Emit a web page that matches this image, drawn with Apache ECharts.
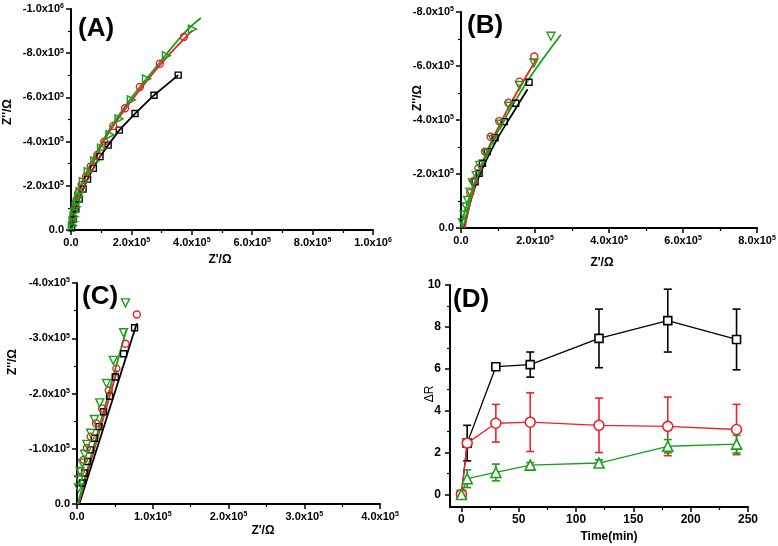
<!DOCTYPE html>
<html><head><meta charset="utf-8">
<script src="https://cdn.jsdelivr.net/npm/echarts@6/dist/echarts.min.js"></script>
<style>html,body{margin:0;padding:0;background:#fff}#c{width:778px;height:546px}</style>
</head><body><div id="c"></div>
<script>
// ---------- Panel A (Z' , -Z'') ----------
var aSquare = [[3.55e5,-7.01e5],[2.75e5,-6.10e5],[2.12e5,-5.27e5],[1.60e5,-4.52e5],[1.23e5,-3.84e5],[0.96e5,-3.32e5],[0.74e5,-2.79e5],[0.55e5,-2.30e5],[0.40e5,-1.85e5],[0.27e5,-1.40e5],[0.16e5,-0.95e5],[0.07e5,-0.50e5],[0.02e5,-0.10e5]];
var aCircle = [[3.74e5,-8.73e5],[2.94e5,-7.52e5],[2.28e5,-6.47e5],[1.79e5,-5.51e5],[1.40e5,-4.71e5],[1.10e5,-4.00e5],[0.87e5,-3.40e5],[0.65e5,-2.87e5],[0.50e5,-2.42e5],[0.35e5,-2.04e5],[0.24e5,-1.66e5],[0.17e5,-1.28e5],[0.10e5,-0.90e5],[0.05e5,-0.55e5]];
var aTriangle = [[4.02e5,-9.09e5],[3.16e5,-7.89e5],[2.50e5,-6.84e5],[2.00e5,-5.89e5],[1.59e5,-5.03e5],[1.29e5,-4.31e5],[1.01e5,-3.70e5],[0.79e5,-3.13e5],[0.57e5,-2.64e5],[0.41e5,-2.19e5],[0.30e5,-1.74e5],[0.25e5,-1.50e5],[0.21e5,-1.28e5],[0.17e5,-1.05e5],[0.13e5,-0.83e5],[0.10e5,-0.60e5],[0.08e5,-0.38e5],[0.05e5,-0.20e5]];
var aRedFit = [[0.02e5,0],[0.08e5,-0.80e5],[0.20e5,-1.50e5],[0.40e5,-2.20e5],[0.70e5,-2.95e5],[1.20e5,-4.30e5],[2.00e5,-5.85e5],[3.00e5,-7.55e5],[4.02e5,-9.03e5]];
var aGreenFit = [[0.03e5,0],[0.10e5,-0.76e5],[0.165e5,-1.36e5],[0.35e5,-2.11e5],[0.61e5,-2.87e5],[1.20e5,-4.38e5],[1.95e5,-5.89e5],[2.83e5,-7.40e5],[3.75e5,-8.91e5],[4.30e5,-9.59e5]];
// ---------- Panel B ----------
var bSquare = [[1.84e5,-5.40e5],[1.48e5,-4.62e5],[1.17e5,-3.94e5],[0.92e5,-3.34e5],[0.71e5,-2.83e5],[0.58e5,-2.40e5],[0.49e5,-2.03e5],[0.38e5,-1.71e5]];
var bCircle = [[1.98e5,-6.35e5],[1.58e5,-5.42e5],[1.28e5,-4.64e5],[1.03e5,-3.96e5],[0.80e5,-3.38e5],[0.65e5,-2.83e5],[0.47e5,-2.21e5],[0.35e5,-1.75e5],[0.25e5,-1.30e5]];
var bTriangle = [[2.43e5,-7.10e5],[1.97e5,-6.11e5],[1.58e5,-5.28e5],[1.30e5,-4.51e5],[1.07e5,-3.84e5],[0.86e5,-3.27e5],[0.68e5,-2.75e5],[0.51e5,-2.32e5],[0.41e5,-1.95e5],[0.31e5,-1.67e5],[0.24e5,-1.33e5],[0.18e5,-1.02e5],[0.14e5,-0.78e5],[0.08e5,-0.47e5],[0.04e5,-0.20e5]];
var bBlackFit = [[0.08e5,0],[0.40e5,-1.60e5],[0.90e5,-3.10e5],[1.40e5,-4.25e5],[1.80e5,-5.14e5]];
var bRedFit = [[0.10e5,0],[0.30e5,-1.20e5],[0.60e5,-2.50e5],[1.00e5,-3.70e5],[1.50e5,-5.00e5],[2.05e5,-6.27e5]];
var bGreenFit = [[0,0],[0.10e5,-0.60e5],[0.33e5,-1.52e5],[0.78e5,-3.00e5],[1.24e5,-4.17e5],[1.87e5,-5.59e5],[2.70e5,-7.16e5]];
// ---------- Panel C ----------
var cSquare = [[0.76e5,-3.19e5],[0.615e5,-2.72e5],[0.505e5,-2.30e5],[0.43e5,-1.95e5],[0.35e5,-1.67e5],[0.29e5,-1.40e5],[0.23e5,-1.19e5],[0.18e5,-0.98e5],[0.14e5,-0.77e5],[0.10e5,-0.56e5],[0.07e5,-0.38e5]];
var cCircle = [[0.79e5,-3.43e5],[0.64e5,-2.90e5],[0.52e5,-2.45e5],[0.42e5,-2.06e5],[0.33e5,-1.73e5],[0.25e5,-1.46e5],[0.18e5,-1.22e5],[0.13e5,-1.01e5],[0.09e5,-0.80e5],[0.05e5,-0.59e5]];
var cTriangle = [[0.64e5,-3.64e5],[0.615e5,-3.10e5],[0.48e5,-2.60e5],[0.39e5,-2.18e5],[0.30e5,-1.83e5],[0.23e5,-1.53e5],[0.18e5,-1.28e5],[0.13e5,-1.08e5],[0.10e5,-0.90e5],[0.07e5,-0.74e5],[0.04e5,-0.59e5],[0.03e5,-0.44e5],[0.02e5,-0.29e5]];
var cBlackFit = [[0.03e5,0],[0.79e5,-3.27e5]];
var cRedFit = [[0.02e5,0],[0.53e5,-2.42e5]];
var cGreenFit = [[0.01e5,0],[0.65e5,-3.15e5]];
// ---------- Panel D (ΔR vs time) ----------
var dTime = [0,5,30,60,120,180,240];
var dBlack = [0,2.45,6.1,6.2,7.45,8.3,7.4];
var dBlackErr = [0,0.85,0,0.6,1.4,1.5,1.45];
var dRed = [0,2.45,3.4,3.45,3.3,3.25,3.1];
var dRedErr = [0,0.1,0.9,1.4,1.3,1.4,1.2];
var dGreen = [0,0.75,1.05,1.4,1.5,2.3,2.4];
var dGreenErr = [0,0.42,0.4,0.12,0.15,0.32,0.42];
var dXTicks = [0,50,100,150,200,250];
var dXMinor = [25,75,125,175,225];
var dYTicks = [0,2,4,6,8,10];
var dYMinor = [1,3,5,7,9];

var FONT = '"Liberation Sans", Arial, sans-serif';
var BLACK = '#000000', RED = '#f0202a', GREEN = '#1c9e1c';

function sci(v){
  if (v === 0) return '{m|0.0}';
  var e = Math.floor(Math.log10(Math.abs(v)) + 1e-9);
  var m = v / Math.pow(10, e);
  return '{m|' + m.toFixed(1) + 'x10}{s|' + e + '}';
}
var rich = {
  m: {fontSize: 11, fontWeight: 'bold', fontFamily: FONT, color: '#000'},
  s: {fontSize: 7, fontWeight: 'bold', fontFamily: FONT, color: '#000', verticalAlign: 'top', padding: [0,0,5,0]}
};
function axisBase(grid, min, max, interval, extra){
  var o = {
    type: 'value', gridIndex: grid, min: min, max: max, interval: interval,
    splitLine: {show: false},
    axisLine: {show: true, onZero: false, lineStyle: {color: '#000', width: 2}},
    axisTick: {show: true, inside: false, length: 5, lineStyle: {color: '#000', width: 1.5}},
    minorTick: {show: true, splitNumber: 2, length: 3, lineStyle: {color: '#000', width: 1.2}},
    axisLabel: {formatter: sci, rich: rich, margin: 7, fontFamily: FONT}
  };
  for (var k in extra) o[k] = extra[k];
  return o;
}

var grids = [
  {left: 71, top: 9, width: 302, height: 221},
  {left: 461, top: 12, width: 296, height: 216},
  {left: 77, top: 283, width: 303, height: 221},
  {left: 450, top: 285, width: 298, height: 222}
];
grids.forEach(function(g){ g.containLabel = false; g.outerBoundsMode = 'none'; });

var xAxes = [
  axisBase(0, 0, 1e6, 2e5, {}),
  axisBase(1, 0, 8e5, 2e5, {}),
  axisBase(2, 0, 4e5, 1e5, {}),
  {type: 'value', gridIndex: 3, min: -10, max: 250, position: 'bottom',
   splitLine: {show: false},
   axisLine: {show: true, onZero: false, lineStyle: {color: '#000', width: 2}},
   axisTick: {show: true, length: 5, customValues: dXTicks, lineStyle: {color: '#000', width: 1.5}},
   axisLabel: {customValues: dXTicks, fontSize: 12, fontWeight: 'bold', fontFamily: FONT, color: '#000', margin: 7}},
  {type: 'value', gridIndex: 3, min: -10, max: 250, position: 'bottom',
   splitLine: {show: false}, axisLine: {show: false, onZero: false},
   axisTick: {show: true, length: 3, customValues: dXMinor, lineStyle: {color: '#000', width: 1.2}},
   axisLabel: {show: false}}
];
var yAxes = [
  axisBase(0, -1e6, 0, 2e5, {inverse: true}),
  axisBase(1, -8e5, 0, 2e5, {inverse: true}),
  axisBase(2, -4e5, 0, 1e5, {inverse: true}),
  {type: 'value', gridIndex: 3, min: -0.6, max: 10, position: 'left',
   splitLine: {show: false},
   axisLine: {show: true, onZero: false, lineStyle: {color: '#000', width: 2}},
   axisTick: {show: true, length: 5, customValues: dYTicks, lineStyle: {color: '#000', width: 1.5}},
   axisLabel: {customValues: dYTicks, fontSize: 12, fontWeight: 'bold', fontFamily: FONT, color: '#000', margin: 9}},
  {type: 'value', gridIndex: 3, min: -0.6, max: 10, position: 'left',
   splitLine: {show: false}, axisLine: {show: false, onZero: false},
   axisTick: {show: true, length: 3, customValues: dYMinor, lineStyle: {color: '#000', width: 1.2}},
   axisLabel: {show: false}}
];

function scatterLine(name, grid, data, color, symbol, size, rot, showLine, lw){
  return {
    name: name, type: 'line', xAxisIndex: grid, yAxisIndex: grid, data: data,
    symbol: symbol, symbolSize: size, symbolRotate: rot || 0, showSymbol: true,
    lineStyle: {color: color, width: showLine ? lw : 0, opacity: showLine ? 1 : 0},
    itemStyle: {color: 'rgba(255,255,255,0)', borderColor: color, borderWidth: 1.4},
    emphasis: {disabled: true}, animation: false, z: 3
  };
}
function fitLine(name, grid, data, color, smooth){
  return {
    name: name, type: 'line', xAxisIndex: grid, yAxisIndex: grid, data: data,
    showSymbol: false, symbol: 'none', smooth: smooth ? 0.4 : false,
    lineStyle: {color: color, width: 1.8}, emphasis: {disabled: true}, animation: false, z: 2
  };
}
function pairs(xs, ys){ return xs.map(function(x, i){ return [x, ys[i]]; }); }
function errData(xs, ys, es){
  var out = [];
  xs.forEach(function(x, i){ if (es[i] > 0) out.push([x, ys[i] - es[i], ys[i] + es[i]]); });
  return out;
}
function errSeries(xs, ys, es, color){
  return {
    type: 'custom', xAxisIndex: 3, yAxisIndex: 3, data: errData(xs, ys, es),
    encode: {x: 0, y: [1, 2]}, animation: false, z: 1,
    renderItem: function(params, api){
      var x = api.value(0);
      var p1 = api.coord([x, api.value(1)]), p2 = api.coord([x, api.value(2)]);
      var w = 4, st = {stroke: color, lineWidth: 1.6};
      return {type: 'group', children: [
        {type: 'line', shape: {x1: p1[0], y1: p1[1], x2: p2[0], y2: p2[1]}, style: st},
        {type: 'line', shape: {x1: p1[0]-w, y1: p1[1], x2: p1[0]+w, y2: p1[1]}, style: st},
        {type: 'line', shape: {x1: p2[0]-w, y1: p2[1], x2: p2[0]+w, y2: p2[1]}, style: st}
      ]};
    }
  };
}
function dSeries(ys, color, symbol, size){
  return {
    type: 'line', xAxisIndex: 3, yAxisIndex: 3, data: pairs(dTime, ys),
    symbol: symbol, symbolSize: size, showSymbol: true,
    lineStyle: {color: color, width: 1.3},
    itemStyle: {color: '#ffffff', borderColor: color, borderWidth: 1.6},
    emphasis: {disabled: true}, animation: false, z: 3
  };
}

var series = [
  // A
  scatterLine('A-black', 0, aSquare, BLACK, 'rect', 6, 0, true, 1.8),
  fitLine('A-redfit', 0, aRedFit, RED, true),
  scatterLine('A-red', 0, aCircle, RED, 'circle', 7, 0, false, 0),
  fitLine('A-greenfit', 0, aGreenFit, GREEN, true),
  scatterLine('A-green', 0, aTriangle, GREEN, 'triangle', 8, -90, false, 0),
  // B
  fitLine('B-blackfit', 1, bBlackFit, BLACK, true),
  scatterLine('B-black', 1, bSquare, BLACK, 'rect', 6, 0, false, 0),
  fitLine('B-redfit', 1, bRedFit, RED, true),
  scatterLine('B-red', 1, bCircle, RED, 'circle', 7, 0, false, 0),
  fitLine('B-greenfit', 1, bGreenFit, GREEN, true),
  scatterLine('B-green', 1, bTriangle, GREEN, 'triangle', 8, 180, false, 0),
  // C
  fitLine('C-blackfit', 2, cBlackFit, BLACK, false),
  scatterLine('C-black', 2, cSquare, BLACK, 'rect', 6, 0, false, 0),
  fitLine('C-redfit', 2, cRedFit, RED, false),
  scatterLine('C-red', 2, cCircle, RED, 'circle', 7, 0, false, 0),
  fitLine('C-greenfit', 2, cGreenFit, GREEN, false),
  scatterLine('C-green', 2, cTriangle, GREEN, 'triangle', 8, 180, false, 0),
  // D
  errSeries(dTime, dBlack, dBlackErr, BLACK),
  errSeries(dTime, dRed, dRedErr, RED),
  errSeries(dTime, dGreen, dGreenErr, GREEN),
  dSeries(dBlack, BLACK, 'rect', 8),
  dSeries(dRed, RED, 'circle', 10),
  dSeries(dGreen, GREEN, 'triangle', 10)
];

function txt(x, y, s, size, weight, rot, align){
  return {type: 'text', x: x, y: y, rotation: rot || 0, silent: true,
    style: {text: s, fill: '#000', font: (weight || 'bold') + ' ' + size + 'px ' + FONT,
      textAlign: align || 'center', textVerticalAlign: 'middle'}};
}
var graphics = [
  txt(78, 29, '(A)', 26, 'bold', 0, 'left'),
  txt(467, 26, '(B)', 26, 'bold', 0, 'left'),
  txt(82, 297, '(C)', 26, 'bold', 0, 'left'),
  txt(453, 300, '(D)', 26, 'bold', 0, 'left'),
  txt(220, 260, "Z'/\u03A9", 12, 'bold'),
  txt(602, 263, "Z'/\u03A9", 12, 'bold'),
  txt(263, 531, "Z'/\u03A9", 12, 'bold'),
  txt(609, 537, 'Time(min)', 12, 'bold'),
  txt(8, 112, "Z''/\u03A9", 12, 'bold', Math.PI/2),
  txt(418, 98, "Z''/\u03A9", 12, 'bold', Math.PI/2),
  txt(13, 362, "Z''/\u03A9", 12, 'bold', Math.PI/2),
  txt(430, 394, '\u0394R', 12, 'normal', Math.PI/2)
];

var chart = echarts.init(document.getElementById('c'), null, {renderer: 'canvas'});
chart.setOption({
  backgroundColor: '#ffffff',
  animation: false,
  grid: grids, xAxis: xAxes, yAxis: yAxes, series: series,
  graphic: graphics
});
</script></body></html>
